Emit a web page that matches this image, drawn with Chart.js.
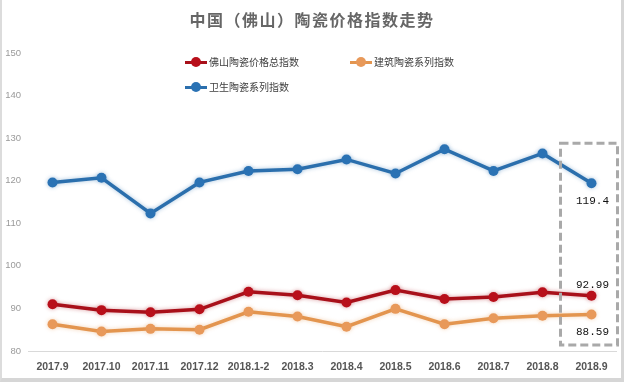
<!DOCTYPE html>
<html>
<head>
<meta charset="utf-8">
<script src="https://cdn.jsdelivr.net/npm/chart.js@4/dist/chart.umd.min.js"></script>
<style>
  html, body { margin: 0; padding: 0; background: #fff; }
  #wrap { position: relative; width: 624px; height: 382px; overflow: hidden; }
  #frame { position: absolute; left: 0; top: 0; width: 624px; height: 382px; box-sizing: border-box;
           border-left: 2px solid #dcdcdc; border-right: 3px solid #d6d6d6; border-bottom: 4px solid #d6d6d6; pointer-events: none; }
  #title { position: absolute; left: 0; top: 7px; width: 624px; text-align: center;
           font-family: "Noto Sans CJK SC", sans-serif; font-size: 16px; font-weight: bold; color: #666; letter-spacing: 1.5px; }
  .lg { position: absolute; font-family: "Noto Sans CJK SC", sans-serif; font-size: 10px; color: #404040; white-space: nowrap; line-height: 14px; }
  .mk { display: inline-block; position: relative; width: 22px; height: 14px; vertical-align: top; margin-right: 2px; }
  .mk .ln { position: absolute; left: 0; top: 5.5px; width: 22px; height: 3px; }
  .mk .dt { position: absolute; left: 6px; top: 2px; width: 10px; height: 10px; border-radius: 50%; }
</style>
</head>
<body>
<div id="wrap">
  <canvas id="c" width="624" height="382"></canvas>
  <div id="title"></div>
  <div id="legend"></div>
  <div id="frame"></div>
</div>
<script>
const chartTitle = "中国（佛山）陶瓷价格指数走势";
const categories = ["2017.9", "2017.10", "2017.11", "2017.12", "2018.1-2", "2018.3", "2018.4", "2018.5", "2018.6", "2018.7", "2018.8", "2018.9"];
const seriesNames = ["佛山陶瓷价格总指数", "建筑陶瓷系列指数", "卫生陶瓷系列指数"];
const totalIndex = [91.0, 89.6, 89.1, 89.8, 93.9, 93.1, 91.4, 94.3, 92.2, 92.7, 93.8, 92.99];
const buildingIndex = [86.3, 84.6, 85.2, 85.0, 89.2, 88.1, 85.7, 89.9, 86.3, 87.7, 88.3, 88.59];
const sanitaryIndex = [119.6, 120.7, 112.3, 119.6, 122.3, 122.7, 125.0, 121.7, 127.4, 122.3, 126.4, 119.4];
const yTicks = [80, 90, 100, 110, 120, 130, 140, 150];
const lastLabels = ["92.99", "88.59", "119.4"];

const colors = ["#A8101A", "#E3954F", "#2B6FAD"];
const pointColors = ["#B80F1A", "#E8995A", "#2A72B4"];

document.getElementById('title').textContent = chartTitle;

const legendPos = [[185, 55], [350, 55], [185, 80]];
const legendEl = document.getElementById('legend');
seriesNames.forEach((name, i) => {
  const d = document.createElement('div');
  d.className = 'lg';
  d.style.left = legendPos[i][0] + 'px';
  d.style.top = legendPos[i][1] + 'px';
  d.innerHTML = '<span class="mk"><span class="ln" style="background:' + colors[i] + '"></span><span class="dt" style="background:' + pointColors[i] + '"></span></span>';
  const t = document.createElement('span');
  t.textContent = name;
  d.appendChild(t);
  legendEl.appendChild(d);
});

const glow = {
  id: 'glow',
  beforeDatasetDraw(chart, args) {
    const ctx = chart.ctx;
    ctx.save();
    ctx.shadowColor = colors[args.index] + '66';
    ctx.shadowBlur = 4;
  },
  afterDatasetDraw(chart) { chart.ctx.restore(); }
};

const annot = {
  id: 'annot',
  afterDatasetsDraw(chart) {
    const ctx = chart.ctx;
    const xs = chart.scales.x, ys = chart.scales.y;
    const last = categories.length - 1;
    const cx = xs.getPixelForValue(last);
    ctx.save();
    ctx.strokeStyle = '#a9a9a9';
    ctx.lineWidth = 3;
    ctx.setLineDash([8, 4]);
    const top = ys.getPixelForValue(128.8);
    const bot = ys.getPixelForValue(81.4);
    ctx.strokeRect(cx - 31, top, 57, bot - top);
    ctx.restore();
    ctx.save();
    ctx.fillStyle = '#111';
    ctx.font = '11px "Liberation Mono", "DejaVu Sans Mono", monospace';
    ctx.textAlign = 'center';
    ctx.textBaseline = 'middle';
    const offs = [-11, 18, 18];
    const data = [totalIndex, buildingIndex, sanitaryIndex];
    data.forEach((arr, i) => {
      const y = ys.getPixelForValue(arr[last]);
      ctx.fillText(lastLabels[i], cx + 1, y + offs[i]);
    });
    ctx.restore();
  }
};

function ds(label, data, i) {
  return {
    label, data,
    borderColor: colors[i],
    backgroundColor: pointColors[i],
    pointBackgroundColor: pointColors[i],
    pointBorderColor: pointColors[i],
    borderWidth: 3.5,
    pointRadius: 5,
    pointBorderWidth: 0,
    tension: 0
  };
}

new Chart(document.getElementById('c'), {
  type: 'line',
  data: {
    labels: categories,
    datasets: [ds(seriesNames[0], totalIndex, 0), ds(seriesNames[1], buildingIndex, 1), ds(seriesNames[2], sanitaryIndex, 2)]
  },
  options: {
    responsive: false,
    animation: false,
    layout: { padding: { top: 53, left: 0, right: 8, bottom: 0 } },
    plugins: { legend: { display: false }, title: { display: false }, tooltip: { enabled: false } },
    scales: {
      x: {
        offset: true,
        grid: { display: false, drawTicks: false },
        border: { display: true, color: '#d9d9d9', width: 1 },
        ticks: { color: '#555', padding: 10, maxRotation: 0, autoSkip: false,
                 font: { family: 'Liberation Sans', size: 10.5, weight: 'bold' } },
        afterFit(s) { s.height = 31; }
      },
      y: {
        min: 80, max: 150,
        afterBuildTicks(s) { s.ticks = yTicks.map(v => ({ value: v })); },
        grid: { display: false, drawTicks: false },
        border: { display: false },
        ticks: { color: '#9a9a9a', padding: 7, font: { family: 'Liberation Sans', size: 9.5 } },
        afterFit(s) { s.width = 28; }
      }
    }
  },
  plugins: [glow, annot]
});
</script>
</body>
</html>
